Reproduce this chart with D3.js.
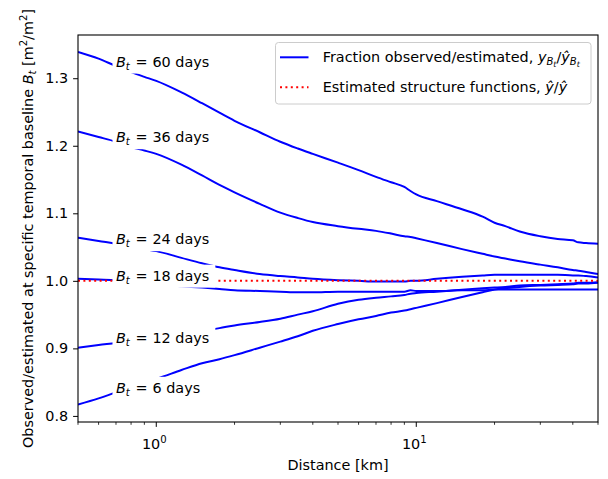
<!DOCTYPE html>
<html>
<head>
<meta charset="utf-8">
<script src="https://cdn.jsdelivr.net/npm/d3@7"></script>
<style>
  html, body { margin: 0; padding: 0; background: #fff; }
  svg { display: block; font-family: "DejaVu Sans", sans-serif; }
</style>
</head>
<body>
<svg id="chart" width="608" height="479"></svg>
<script>
// ---------- data ----------
const distances = [0.5, 0.6, 0.7, 0.8, 0.9, 1.0, 1.25, 1.5, 1.75, 2.0, 2.5, 3.0, 3.5, 4.0, 5.0, 6.0, 7.0, 8.0, 9.0, 9.5, 10, 12, 15, 18, 20, 22, 25, 30, 35, 40, 42, 45, 50];
const baselines = [60, 36, 24, 18, 12, 6];
const ratio60 = [1.339, 1.329, 1.318, 1.309, 1.302, 1.296, 1.279, 1.263, 1.249, 1.237, 1.220, 1.206, 1.196, 1.188, 1.175, 1.164, 1.154, 1.146, 1.139, 1.133, 1.128, 1.118, 1.106, 1.095, 1.086, 1.081, 1.073, 1.066, 1.062, 1.060, 1.057, 1.056, 1.055];
const ratio36 = [1.221, 1.213, 1.206, 1.198, 1.193, 1.188, 1.172, 1.156, 1.142, 1.131, 1.114, 1.101, 1.093, 1.087, 1.081, 1.077, 1.074, 1.070, 1.066, 1.065, 1.063, 1.056, 1.047, 1.040, 1.036, 1.033, 1.029, 1.024, 1.020, 1.016, 1.015, 1.013, 1.010];
const ratio24 = [1.064, 1.059, 1.055, 1.051, 1.047, 1.044, 1.034, 1.026, 1.020, 1.016, 1.010, 1.007, 1.005, 1.003, 1.001, 1.000, 0.999, 0.999, 0.999, 1.000, 1.000, 1.003, 1.006, 1.008, 1.009, 1.009, 1.009, 1.009, 1.009, 1.008, 1.008, 1.007, 1.005];
const ratio18 = [1.003, 1.002, 1.001, 0.999, 0.997, 0.995, 0.992, 0.990, 0.988, 0.986, 0.985, 0.984, 0.983, 0.983, 0.984, 0.984, 0.984, 0.984, 0.984, 0.986, 0.985, 0.985, 0.986, 0.986, 0.987, 0.987, 0.987, 0.987, 0.987, 0.987, 0.987, 0.987, 0.987];
const ratio12 = [0.901, 0.905, 0.908, 0.911, 0.914, 0.916, 0.921, 0.926, 0.930, 0.934, 0.939, 0.944, 0.950, 0.955, 0.966, 0.972, 0.975, 0.977, 0.979, 0.981, 0.982, 0.984, 0.987, 0.989, 0.990, 0.991, 0.993, 0.994, 0.995, 0.996, 0.997, 0.997, 0.998];
const ratio6  = [0.817, 0.826, 0.835, 0.843, 0.850, 0.855, 0.868, 0.878, 0.884, 0.890, 0.901, 0.910, 0.918, 0.926, 0.936, 0.943, 0.948, 0.953, 0.956, 0.958, 0.960, 0.967, 0.976, 0.983, 0.987, 0.989, 0.991, 0.993, 0.994, 0.995, 0.996, 0.996, 0.997];
const estimatedRatio = [1.0, 1.0];
const estimatedDist = [0.5, 50];
const yTicks = [0.8, 0.9, 1.0, 1.1, 1.2, 1.3];
const xMajorTicks = [1, 10];
const xMajorExp = ["0", "1"];
const xMinorTicks = [0.5, 0.6, 0.7, 0.8, 0.9, 2, 3, 4, 5, 6, 7, 8, 9, 20, 30, 40, 50];
const labelX = 0.7;
const seriesValues = [ratio60, ratio36, ratio24, ratio18, ratio12, ratio6];

// ---------- layout ----------
const W = 608, H = 479;
const L = 78, R = 598, T = 35, B = 422;
const FS = 14.4;
const svg = d3.select("#chart");
svg.append("rect").attr("width", W).attr("height", H).attr("fill", "#fff");

const x = d3.scaleLog().domain([0.5, 50]).range([L, R]);
const y = d3.scaleLinear().domain([0.791, 1.364]).range([B, T]);

svg.append("defs").append("clipPath").attr("id", "clip")
  .append("rect").attr("x", L).attr("y", T).attr("width", R - L).attr("height", B - T);

const plot = svg.append("g").attr("clip-path", "url(#clip)");
const line = d3.line().x(d => x(d[0])).y(d => y(d[1])).curve(d3.curveMonotoneX);

seriesValues.forEach(vals => {
  plot.append("path")
    .datum(distances.map((d, i) => [d, vals[i]]))
    .attr("d", line)
    .attr("fill", "none")
    .attr("stroke", "#0000ff")
    .attr("stroke-width", 2);
});
plot.append("path")
  .datum(estimatedDist.map((d, i) => [d, estimatedRatio[i]]))
  .attr("d", d3.line().x(d => x(d[0])).y(d => y(d[1])))
  .attr("fill", "none")
  .attr("stroke", "#ff0000")
  .attr("stroke-width", 2)
  .attr("stroke-dasharray", "2,3.4");

// ---------- inline labels ----------
function interp(vals, xv) {
  const lx = Math.log10(xv);
  for (let i = 0; i < distances.length - 1; i++) {
    const a = Math.log10(distances[i]), b = Math.log10(distances[i + 1]);
    if (lx >= a && lx <= b) return vals[i] + (vals[i + 1] - vals[i]) * (lx - a) / (b - a);
  }
  return vals[vals.length - 1];
}
const labelsG = svg.append("g");
baselines.forEach((bt, k) => {
  const ly = y(interp(seriesValues[k], labelX));
  const base = ly + 0.5;
  const x0 = x(labelX);
  const g = labelsG.append("g");
  const rect = g.append("rect").attr("fill", "#fff");
  const t = g.append("text").attr("x", x0).attr("y", base).attr("font-size", FS).attr("fill", "#000");
  t.append("tspan").attr("font-style", "italic").text("B");
  t.append("tspan").attr("font-style", "italic").attr("font-size", FS * 0.7).attr("dy", 3).text("t");
  t.append("tspan").attr("dx", 5.7).attr("dy", -3).text("=");
  t.append("tspan").attr("dx", 4.9).text(bt + " days");
  const bb = t.node().getBBox();
  rect.attr("x", x0 - 3.5).attr("y", base - 16).attr("width", bb.width + 3.5 + 6).attr("height", 23);
});

// ---------- axes ----------
const yAxis = svg.append("g").attr("transform", `translate(${L},0)`)
  .call(d3.axisLeft(y).tickValues(yTicks).tickFormat(d3.format(".1f")).tickSize(4.9).tickPadding(4.9));
yAxis.select(".domain").remove();
yAxis.selectAll("text").attr("font-size", FS).attr("font-family", "DejaVu Sans").attr("fill", "#000");
yAxis.selectAll("line").attr("stroke", "#000").attr("stroke-width", 1);

const xAxisG = svg.append("g");
xAxisG.selectAll("line.minor").data(xMinorTicks).join("line")
  .attr("x1", d => x(d)).attr("x2", d => x(d)).attr("y1", B).attr("y2", B + 2.8)
  .attr("stroke", "#000").attr("stroke-width", 0.8);
xAxisG.selectAll("line.major").data(xMajorTicks).join("line")
  .attr("x1", d => x(d)).attr("x2", d => x(d)).attr("y1", B).attr("y2", B + 4.9)
  .attr("stroke", "#000").attr("stroke-width", 1);
xMajorTicks.forEach((v, i) => {
  const t = xAxisG.append("text").attr("x", x(v) - 2).attr("y", 448.8)
    .attr("text-anchor", "middle").attr("font-size", FS).attr("fill", "#000");
  t.append("tspan").text("10");
  t.append("tspan").attr("font-size", FS * 0.7).attr("dy", -6).text(xMajorExp[i]);
});

// frame
svg.append("rect").attr("x", L).attr("y", T).attr("width", R - L).attr("height", B - T)
  .attr("fill", "none").attr("stroke", "#000").attr("stroke-width", 1.1);

// axis titles
svg.append("text").attr("x", (L + R) / 2).attr("y", 469.5).attr("text-anchor", "middle")
  .attr("font-size", FS).attr("fill", "#000").text("Distance [km]");
const yl = svg.append("text").attr("transform", `translate(32.5,${(T + B) / 2}) rotate(-90)`)
  .attr("text-anchor", "middle").attr("font-size", FS).attr("fill", "#000");
yl.append("tspan").text("Observed/estimated at specific temporal baseline ");
yl.append("tspan").attr("font-style", "italic").text("B");
yl.append("tspan").attr("font-style", "italic").attr("font-size", FS * 0.7).attr("dy", 3).text("t");
yl.append("tspan").attr("dy", -3).text(" [m");
yl.append("tspan").attr("font-size", FS * 0.7).attr("dy", -6).text("2");
yl.append("tspan").attr("dy", 6).text("/m");
yl.append("tspan").attr("font-size", FS * 0.7).attr("dy", -6).text("2");
yl.append("tspan").attr("dy", 6).text("]");

// ---------- legend ----------
const lg = svg.append("g");
lg.append("rect").attr("x", 275.5).attr("y", 42.5).attr("width", 315.5).attr("height", 61.5)
  .attr("rx", 3).attr("fill", "#fff").attr("fill-opacity", 0.8).attr("stroke", "#cccccc").attr("stroke-width", 1);
lg.append("line").attr("x1", 280).attr("x2", 308.5).attr("y1", 57.3).attr("y2", 57.3)
  .attr("stroke", "#0000ff").attr("stroke-width", 2);
lg.append("line").attr("x1", 280).attr("x2", 308.5).attr("y1", 87.3).attr("y2", 87.3)
  .attr("stroke", "#ff0000").attr("stroke-width", 2).attr("stroke-dasharray", "2,3.4");
const t1 = lg.append("text").attr("x", 322.7).attr("y", 62).attr("font-size", FS).attr("fill", "#000");
t1.append("tspan").text("Fraction observed/estimated, ");
t1.append("tspan").attr("font-style", "italic").text("y");
t1.append("tspan").attr("font-style", "italic").attr("font-size", FS * 0.7).attr("dy", 3).text("B");
t1.append("tspan").attr("font-style", "italic").attr("font-size", FS * 0.55).attr("dy", 2).text("t");
t1.append("tspan").attr("dy", -5).text("/");
t1.append("tspan").attr("font-style", "italic").text("\u0177");
t1.append("tspan").attr("font-style", "italic").attr("font-size", FS * 0.7).attr("dy", 3).text("B");
t1.append("tspan").attr("font-style", "italic").attr("font-size", FS * 0.55).attr("dy", 2).text("t");
const t2 = lg.append("text").attr("x", 322.7).attr("y", 92).attr("font-size", FS).attr("fill", "#000");
t2.append("tspan").text("Estimated structure functions, ");
t2.append("tspan").attr("font-style", "italic").text("\u0177");
t2.append("tspan").text("/");
t2.append("tspan").attr("font-style", "italic").text("\u0177");
</script>
</body>
</html>
